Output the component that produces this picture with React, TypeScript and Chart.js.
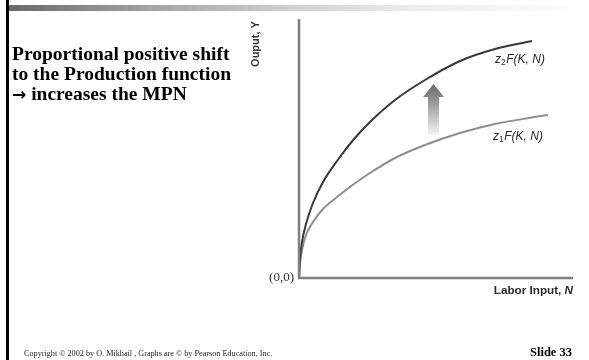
import React, { useEffect, useRef } from "react";
import { Chart, registerables } from "chart.js";

Chart.register(...registerables);

// Labor input N (horizontal units) and output Y (vertical units)
const upperN = [0, 1, 3, 7, 14, 24, 38, 55, 71, 96, 126, 161, 196, 233];
const upperY = [0, 20, 36, 54, 75, 96, 117, 139, 156, 178, 198, 217, 229, 237];
const lowerN = [0, 1, 3, 7, 14, 24, 38, 55, 71, 96, 126, 161, 196, 233, 249];
const lowerY = [0, 14, 28, 43, 56, 69, 81, 94, 105, 120, 133, 145, 154, 160.5, 163];

const N_MAX = 274;
const Y_MAX = 259;

const upperLabel = "z2F(K, N)";
const lowerLabel = "z1F(K, N)";
const yTitle = "Ouput, Y";
const xTitle = "Labor Input, N";
const originLabel = "(0,0)";

// annotation anchors in data units
const upperLabelAt = { n: 196, y: 218 };
const lowerLabelAt = { n: 194, y: 141 };
const arrowAt = { n0: 124, n1: 145, yTop: 194, yHeadBase: 181, yBottom: 143, shaft0: 129, shaft1: 140 };

const toPts = (xs: number[], ys: number[]) => xs.map((x, i) => ({ x, y: ys[i] }));

const SANS = "'Liberation Sans', Arial, sans-serif";
const SERIF = "'Liberation Serif', 'Times New Roman', serif";

function drawZLabel(ctx: CanvasRenderingContext2D, x: number, y: number, sub: string) {
  ctx.save();
  ctx.fillStyle = "#2a2a2a";
  ctx.textBaseline = "middle";
  ctx.textAlign = "left";
  ctx.font = `italic 12px ${SANS}`;
  ctx.fillText("z", x, y);
  let cx = x + ctx.measureText("z").width;
  ctx.font = `8.5px ${SANS}`;
  ctx.fillText(sub, cx, y + 3);
  cx += ctx.measureText(sub).width + 0.5;
  ctx.font = `italic 12px ${SANS}`;
  ctx.fillText("F(K, N)", cx, y);
  ctx.restore();
}

const overlay = {
  id: "overlay",
  afterDatasetsDraw(chart: any) {
    const ctx: CanvasRenderingContext2D = chart.ctx;
    const xs = chart.scales.x;
    const ys = chart.scales.y;
    const x0 = xs.getPixelForValue(0);
    const y0 = ys.getPixelForValue(0);
    const xEnd = xs.getPixelForValue(N_MAX);
    const yEnd = ys.getPixelForValue(Y_MAX);
    ctx.save();
    // axes
    ctx.strokeStyle = "#7f7f7f";
    ctx.lineWidth = 2.5;
    ctx.beginPath();
    ctx.moveTo(x0, yEnd);
    ctx.lineTo(x0, y0);
    ctx.lineTo(xEnd, y0);
    ctx.stroke();

    // arrow
    const ax0 = xs.getPixelForValue(arrowAt.n0);
    const ax1 = xs.getPixelForValue(arrowAt.n1);
    const as0 = xs.getPixelForValue(arrowAt.shaft0);
    const as1 = xs.getPixelForValue(arrowAt.shaft1);
    const aTop = ys.getPixelForValue(arrowAt.yTop);
    const aHead = ys.getPixelForValue(arrowAt.yHeadBase);
    const aBot = ys.getPixelForValue(arrowAt.yBottom);
    const g = ctx.createLinearGradient(0, aTop, 0, aBot);
    g.addColorStop(0, "#666666");
    g.addColorStop(1, "#f4f4f4");
    ctx.fillStyle = g;
    ctx.beginPath();
    ctx.moveTo((ax0 + ax1) / 2, aTop);
    ctx.lineTo(ax1, aHead);
    ctx.lineTo(as1, aHead);
    ctx.lineTo(as1, aBot);
    ctx.lineTo(as0, aBot);
    ctx.lineTo(as0, aHead);
    ctx.lineTo(ax0, aHead);
    ctx.closePath();
    ctx.fill();

    // curve labels
    drawZLabel(ctx, xs.getPixelForValue(upperLabelAt.n), ys.getPixelForValue(upperLabelAt.y), upperLabel.charAt(1));
    drawZLabel(ctx, xs.getPixelForValue(lowerLabelAt.n), ys.getPixelForValue(lowerLabelAt.y), lowerLabel.charAt(1));

    // origin label
    ctx.fillStyle = "#333";
    ctx.font = `13px ${SERIF}`;
    ctx.textAlign = "right";
    ctx.textBaseline = "middle";
    ctx.fillText(originLabel, x0 - 5, y0);

    // x title
    ctx.textAlign = "left";
    ctx.fillStyle = "#2a2a2a";
    const base = xTitle.slice(0, -1);
    const last = xTitle.slice(-1);
    ctx.font = `italic bold 11.7px ${SANS}`;
    const wLast = ctx.measureText(last).width;
    ctx.font = `bold 11.7px ${SANS}`;
    const wBase = ctx.measureText(base).width;
    const tx = xEnd - wBase - wLast;
    const ty = y0 + 13;
    ctx.fillText(base, tx, ty);
    ctx.font = `italic bold 11.7px ${SANS}`;
    ctx.fillText(last, tx + wBase, ty);

    // y title (rotated)
    ctx.save();
    ctx.translate(x0 - 43, yEnd + 25);
    ctx.rotate(-Math.PI / 2);
    ctx.textAlign = "center";
    ctx.textBaseline = "middle";
    ctx.font = `bold 11px ${SANS}`;
    ctx.fillStyle = "#333";
    ctx.fillText(yTitle, 0, 0);
    ctx.restore();

    ctx.restore();
  },
};

export default function App() {
  const ref = useRef<HTMLCanvasElement | null>(null);
  useEffect(() => {
    if (!ref.current) return;
    const chart = new Chart(ref.current, {
      type: "line",
      data: {
        datasets: [
          {
            label: upperLabel,
            data: toPts(upperN, upperY),
            borderColor: "#383838",
            borderWidth: 2,
            pointRadius: 0,
            cubicInterpolationMode: "monotone",
            fill: false,
          },
          {
            label: lowerLabel,
            data: toPts(lowerN, lowerY),
            borderColor: "#8e8e8e",
            borderWidth: 2,
            pointRadius: 0,
            cubicInterpolationMode: "monotone",
            fill: false,
          },
        ],
      },
      options: {
        animation: false,
        responsive: false,
        maintainAspectRatio: false,
        layout: { padding: { left: 299, top: 19, right: 16, bottom: 82 } },
        plugins: { legend: { display: false }, tooltip: { enabled: false }, title: { display: false } },
        scales: {
          x: { type: "linear", min: 0, max: N_MAX, display: false },
          y: { type: "linear", min: 0, max: Y_MAX, display: false },
        },
      },
      plugins: [overlay],
    } as any);
    return () => chart.destroy();
  }, []);

  return (
    <div style={{ position: "absolute", left: 0, top: 0, width: 589, height: 360, background: "#fff", overflow: "hidden" }}>
      <div style={{ position: "absolute", left: 6, top: 0, width: 3, height: 360, background: "#000" }} />
      <div
        style={{
          position: "absolute",
          left: 9,
          top: 5,
          width: 575,
          height: 6,
          background: "linear-gradient(to right, #6a6a6a 0%, #a4a4a4 25%, #d2d2d2 50%, #ebebeb 70%, #ffffff 100%)",
        }}
      />
      <canvas ref={ref} width={589} height={360} style={{ position: "absolute", left: 0, top: 0, width: 589, height: 360 }} />
      <div
        style={{
          position: "absolute",
          left: 12,
          top: 44,
          font: `bold 19.5px ${SERIF}`,
          lineHeight: "20px",
          color: "#000",
          whiteSpace: "nowrap",
        }}
      >
        <div>Proportional positive shift</div>
        <div>to the Production function</div>
        <div>
          <span style={{ fontFamily: "'DejaVu Sans', sans-serif", fontSize: "17px", fontWeight: 900 }}>→</span> increases the MPN
        </div>
      </div>
      <div
        style={{
          position: "absolute",
          left: 24,
          top: 349,
          font: `8.2px ${SERIF}`,
          color: "#222",
          whiteSpace: "nowrap",
        }}
      >
        Copyright © 2002 by O. Mikhail , Graphs are © by Pearson Education, Inc.
      </div>
      <div
        style={{
          position: "absolute",
          left: 530,
          top: 345,
          font: `bold 12.5px ${SERIF}`,
          color: "#000",
          whiteSpace: "nowrap",
        }}
      >
        Slide 33
      </div>
    </div>
  );
}
